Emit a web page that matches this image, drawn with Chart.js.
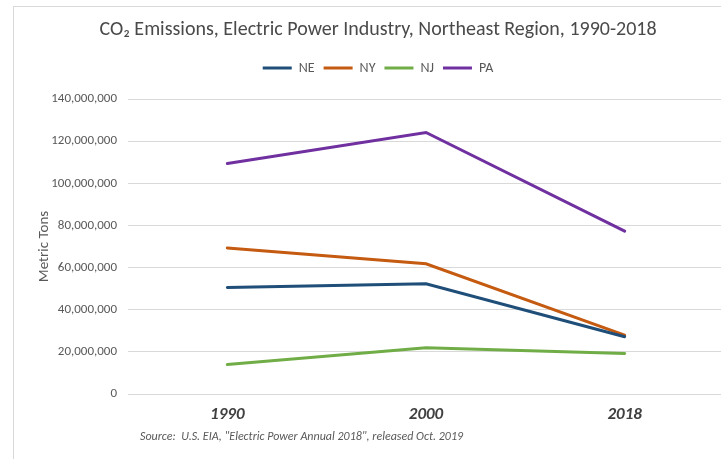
<!DOCTYPE html>
<html>
<head>
<meta charset="utf-8">
<script src="https://cdn.jsdelivr.net/npm/chart.js@4.4.1/dist/chart.umd.min.js"></script>
<style>
  html, body { margin: 0; padding: 0; background: #fff; overflow: hidden; }
  #marco {
    position: absolute; left: 13px; top: 6px;
    width: 728px; height: 453px;
    border-left: 1px solid #d9d9d9; border-top: 1px solid #d9d9d9;
  }
</style>
</head>
<body>
<div id="marco"><canvas id="myChart" width="728" height="453"></canvas></div>
<script>
// datos del grafico (toneladas metricas de CO2)
const anios = ["1990", "2000", "2018"];
const regiones = ["NE", "NY", "NJ", "PA"];
const valoresNE = [50600000, 52300000, 27200000];
const valoresNY = [69300000, 61800000, 27900000];
const valoresNJ = [14000000, 21900000, 19200000];
const valoresPA = [109400000, 124100000, 77300000];
const colores = ["#1F4E79", "#C55A11", "#70AD47", "#7030A0"];
const ejeMax = 140000000;
const ejePaso = 20000000;
const fuente = 'Source:  U.S. EIA, "Electric Power Annual 2018", released Oct. 2019';

const familia = "Carlito, 'Liberation Sans Narrow', 'Open Sans', sans-serif";
const gris = "#595959";

const series = [valoresNE, valoresNY, valoresNJ, valoresPA];

// texto de la fuente debajo del eje x
const notaFuente = {
    id: "notaFuente",
    afterDraw(chart) {
        const ctx = chart.ctx;
        ctx.save();
        ctx.font = "italic 12px " + familia;
        ctx.fillStyle = gris;
        ctx.textBaseline = "middle";
        ctx.fillText(fuente, chart.chartArea.left + 12, 430);
        ctx.restore();
    }
};

// mas espacio entre la leyenda y el area del grafico
const espacioLeyenda = {
    id: "espacioLeyenda",
    beforeInit(chart) {
        const fitOriginal = chart.legend.fit;
        chart.legend.fit = function fit() {
            fitOriginal.bind(chart.legend)();
            this.height += 14;
        };
    }
};

const config = {
    type: "line",
    data: {
        labels: anios,
        datasets: regiones.map((r, i) => ({
            label: r,
            data: series[i],
            borderColor: colores[i],
            backgroundColor: colores[i],
            borderWidth: 3,
            borderCapStyle: "round",
            pointRadius: 0,
            tension: 0
        }))
    },
    options: {
        responsive: false,
        animation: false,
        layout: { padding: { left: 18, right: 18, top: 0, bottom: 0 } },
        plugins: {
            title: {
                display: true,
                text: "CO\u2082 Emissions, Electric Power Industry, Northeast Region, 1990-2018",
                color: "#4a4a4a",
                font: { family: familia, size: 20, weight: "normal" },
                padding: { top: 11, bottom: 10 }
            },
            legend: {
                labels: {
                    color: gris,
                    font: { family: familia, size: 14 },
                    boxWidth: 29,
                    boxHeight: 3,
                    padding: 9,
                    generateLabels(chart) {
                        return chart.data.datasets.map((ds, i) => ({
                            text: ds.label,
                            fillStyle: ds.borderColor,
                            strokeStyle: ds.borderColor,
                            lineWidth: 0,
                            fontColor: gris,
                            datasetIndex: i
                        }));
                    }
                }
            },
            tooltip: { enabled: false }
        },
        scales: {
            x: {
                offset: true,
                grid: { display: false },
                border: { display: false },
                ticks: {
                    color: "#404040",
                    padding: 3,
                    font: { family: familia, size: 17, weight: "bold", style: "italic" }
                },
                afterFit(scale) { scale.height = 66; }
            },
            y: {
                min: 0,
                max: ejeMax,
                border: { display: false },
                grid: { color: "#d9d9d9", lineWidth: 1, drawTicks: false },
                ticks: {
                    stepSize: ejePaso,
                    padding: 11,
                    color: gris,
                    font: { family: familia, size: 13 },
                    callback: (v) => v.toLocaleString("en-US")
                },
                title: {
                    display: true,
                    text: "Metric Tons",
                    color: gris,
                    font: { family: familia, size: 15 },
                    padding: { top: 3, bottom: 0 }
                },
                afterFit(scale) { scale.width = 96; }
            }
        }
    },
    plugins: [notaFuente, espacioLeyenda]
};

const chartDOM = document.getElementById("myChart");
new Chart(chartDOM, config);
</script>
</body>
</html>
